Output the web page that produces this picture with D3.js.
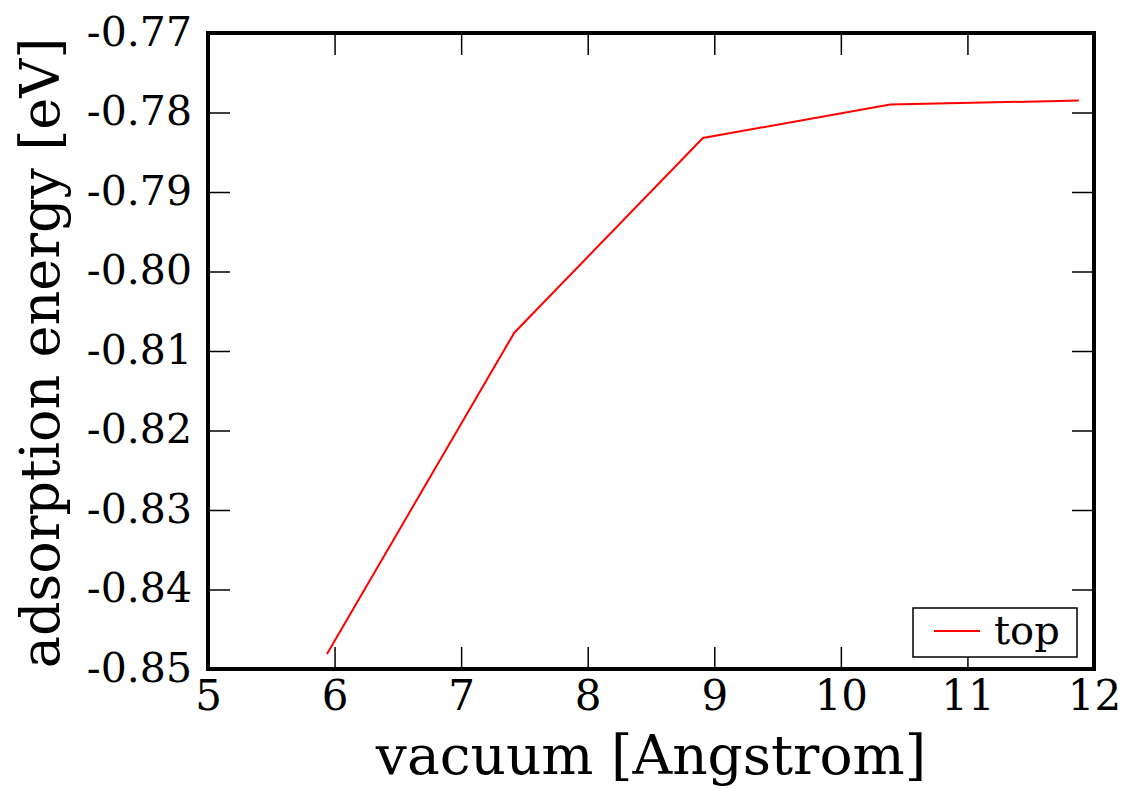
<!DOCTYPE html>
<html>
<head>
<meta charset="utf-8">
<script src="https://cdn.jsdelivr.net/npm/d3@7"></script>
<style>
  body { margin: 0; background: #fff; }
  text { font-family: "DejaVu Serif", serif; fill: #000; }
</style>
</head>
<body>
<svg width="1130" height="789"></svg>
<script>
// data
const vacuum = [5.94, 7.42, 8.91, 10.39, 11.88];
const energy = [-0.8481, -0.8077, -0.7832, -0.7790, -0.7785];
const xTicks = [5, 6, 7, 8, 9, 10, 11, 12];
const yTicks = [-0.85, -0.84, -0.83, -0.82, -0.81, -0.80, -0.79, -0.78, -0.77];
const seriesName = "top";

const svg = d3.select("svg"),
  margin = { left: 208, right: 36, top: 33, bottom: 120 },
  width = +svg.attr("width") - margin.left - margin.right,
  height = +svg.attr("height") - margin.top - margin.bottom;

const x = d3.scaleLinear().domain([5, 12]).range([0, width]);
const y = d3.scaleLinear().domain([-0.85, -0.77]).range([height, 0]);

const g = svg.append("g").attr("transform", "translate(" + margin.left + "," + margin.top + ")");

const tickLen = 22;

// bottom and top ticks (inward)
g.append("g")
  .attr("transform", "translate(0," + height + ")")
  .call(d3.axisBottom(x).tickValues(xTicks).tickSize(-tickLen).tickPadding(11)
    .tickFormat(d3.format("d")))
  .call(a => a.select(".domain").remove())
  .call(a => a.selectAll("line").attr("stroke-width", 1.5))
  .call(a => a.selectAll("text").attr("font-size", 42).attr("dy", "0.71em"));

g.append("g")
  .call(d3.axisTop(x).tickValues(xTicks).tickSize(-tickLen).tickFormat(""))
  .call(a => a.select(".domain").remove())
  .call(a => a.selectAll("line").attr("stroke-width", 1.5));

// left and right ticks
g.append("g")
  .call(d3.axisLeft(y).tickValues(yTicks).tickSize(-tickLen).tickPadding(16)
    .tickFormat(d => d3.format(".2f")(d).replace("−", "-")))
  .call(a => a.select(".domain").remove())
  .call(a => a.selectAll("line").attr("stroke-width", 1.5))
  .call(a => a.selectAll("text").attr("font-size", 41).attr("dy", "0.3em"));

g.append("g")
  .attr("transform", "translate(" + width + ",0)")
  .call(d3.axisRight(y).tickValues(yTicks).tickSize(-tickLen).tickFormat(""))
  .call(a => a.select(".domain").remove())
  .call(a => a.selectAll("line").attr("stroke-width", 1.5));

// the series
const line = d3.line()
  .x((d, i) => x(vacuum[i]))
  .y(d => y(d));

g.append("path")
  .datum(energy)
  .attr("fill", "none")
  .attr("stroke", "#ff0000")
  .attr("stroke-width", 2)
  .attr("d", line);

// frame
g.append("rect")
  .attr("width", width)
  .attr("height", height)
  .attr("fill", "none")
  .attr("stroke", "#000")
  .attr("stroke-width", 4);

// axis titles
svg.append("text")
  .attr("x", margin.left + width / 2)
  .attr("y", 774)
  .attr("text-anchor", "middle")
  .attr("font-size", 55)
  .text("vacuum [Angstrom]");

svg.append("text")
  .attr("transform", "translate(59,353) rotate(-90)")
  .attr("text-anchor", "middle")
  .attr("font-size", 54)
  .text("adsorption energy [eV]");

// legend
const legend = g.append("g").attr("transform", "translate(" + (913 - margin.left) + "," + (608 - margin.top) + ")");
legend.append("rect")
  .attr("width", 164)
  .attr("height", 49)
  .attr("fill", "#fff")
  .attr("stroke", "#000")
  .attr("stroke-width", 1.5);
legend.append("line")
  .attr("x1", 21).attr("x2", 67)
  .attr("y1", 23).attr("y2", 23)
  .attr("stroke", "#ff0000")
  .attr("stroke-width", 2);
legend.append("text")
  .attr("x", 81)
  .attr("y", 36)
  .attr("font-size", 40)
  .text(seriesName);
</script>
</body>
</html>
